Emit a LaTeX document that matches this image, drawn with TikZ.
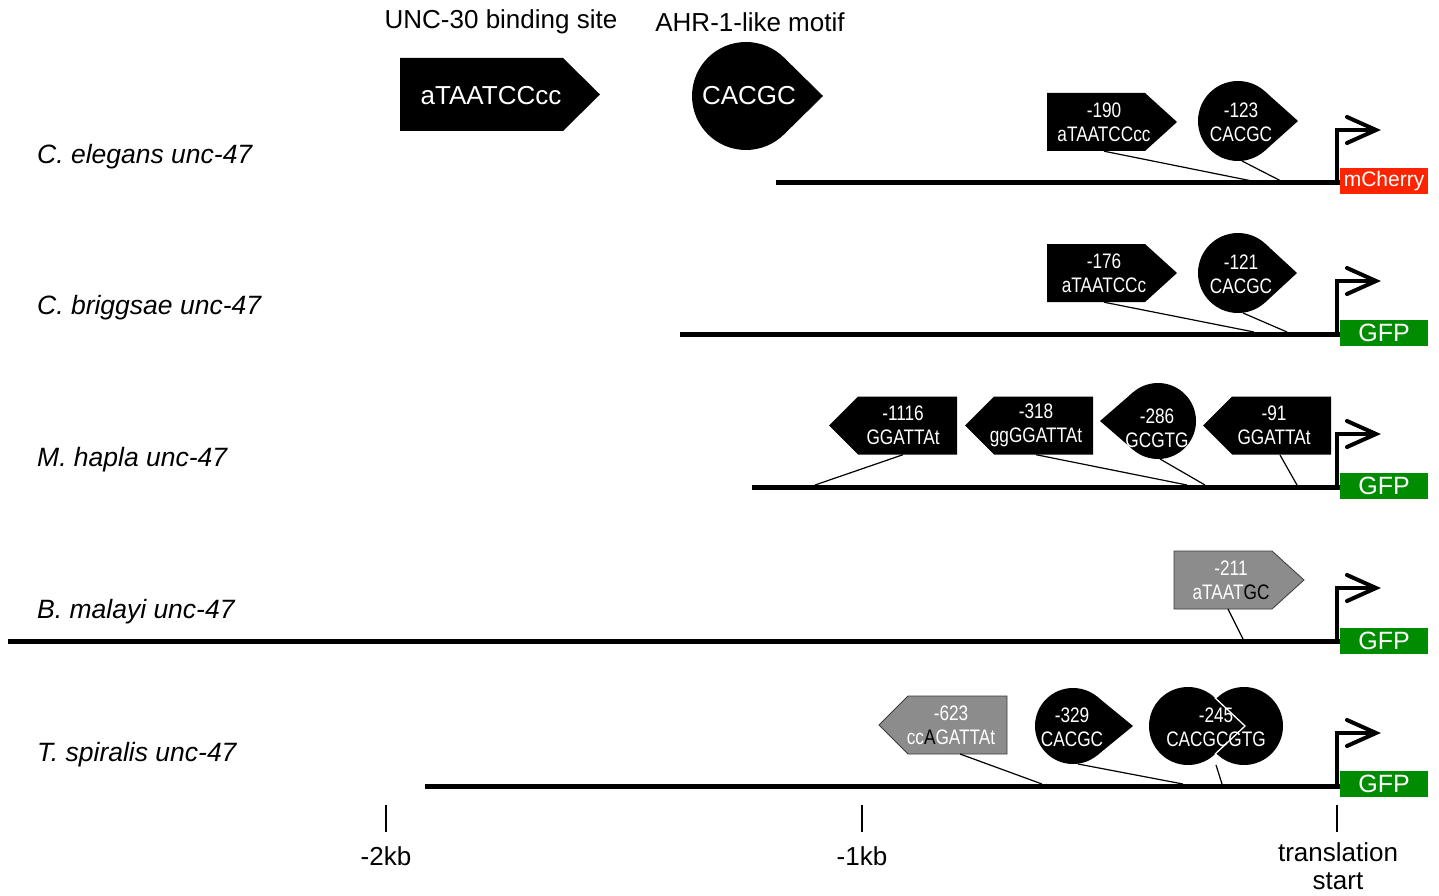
\documentclass[tikz,border=0pt]{standalone}
\usepackage{fontspec}
\setmainfont{Liberation Sans}
\newfontfamily\narrowf[FakeStretch=0.82]{Liberation Sans}
\usetikzlibrary{calc}
\definecolor{mcherry}{RGB}{255,36,0}
\definecolor{gfpgreen}{RGB}{0,140,0}
\definecolor{motgray}{RGB}{140,140,140}
\definecolor{edgegray}{RGB}{60,60,60}

% right-pointing pentagon: #1 left x, #2 centre y, #3 style
\newcommand\pentR[3]{\path[#3] (#1,#2-29) -- (#1+98,#2-29) -- (#1+130,#2) -- (#1+98,#2+29) -- (#1,#2+29) -- cycle;}
% left-pointing pentagon: #1 right x, #2 centre y, #3 style
\newcommand\pentL[3]{\path[#3] (#1,#2-29) -- (#1-99,#2-29) -- (#1-128,#2) -- (#1-99,#2+29) -- (#1,#2+29) -- cycle;}
% teardrop: #1 cx, #2 cy, #3 radius, #4 signed tip distance
\newcommand\tdrop[4]{%
  \fill (#1,#2) circle[radius=#3];
  \pgfmathsetmacro\dropang{acos(#3/(#4))}
  \fill (#1,#2) -- ($(#1,#2)+(\dropang:#3)$) -- (#1+#4,#2) -- ($(#1,#2)+(-\dropang:#3)$) -- cycle;}
% promoter arrow from backbone at y=#1
\newcommand\prom[1]{%
  \draw[promoter] (1337,#1+1) -- (1337,#1-53) -- (1372,#1-53);
  \draw[promoter, line cap=round] (1347,#1-66) -- (1376,#1-53) -- (1347,#1-40);}

\begin{document}
\begin{tikzpicture}[x=1pt,y=-1pt,
  backbone/.style={line width=5pt},
  promoter/.style={line width=4pt, line join=miter},
  link/.style={line width=1.2pt},
  motif/.style={text=white, font=\narrowf\fontsize{21}{24}\selectfont, align=center, inner sep=0pt, minimum height=58pt},
  dropmotif/.style={text=white, font=\narrowf\fontsize{21}{24}\selectfont, align=center, inner sep=0pt, minimum height=80pt},
  species/.style={anchor=west, font=\fontsize{26.5}{30}\selectfont\itshape, inner sep=0pt},
  title/.style={font=\fontsize{26}{30}\selectfont, inner sep=0pt},
  axislabel/.style={font=\fontsize{26}{30}\selectfont, inner sep=0pt, align=center},
  reporter/.style={text=white, minimum width=88pt, minimum height=26pt, inner sep=0pt, font=\fontsize{25}{28}\selectfont},
  graymotif/.style={fill=motgray, draw=edgegray, line width=0.8pt},
  tick/.style={line width=1.4pt}]
\useasboundingbox (0,0) rectangle (1439,896);

% ---------------- legend ----------------
\node[title] (t1) at (501,22) {UNC-30 binding site};
\node[title] (t2) at (750,22) {AHR-1-like motif};
\path[fill=black] (400,58) -- (563,58) -- (600,94.5) -- (563,131) -- (400,131) -- cycle;
\node[text=white, font=\fontsize{26}{30}\selectfont, inner sep=0pt] (l1) at (491,96) {aTAATCCcc};
\tdrop{746}{96}{54}{77}
\node[text=white, font=\fontsize{26}{30}\selectfont, inner sep=0pt] (l2) at (749,96) {CACGC};

% ---------------- species labels ----------------
\node[species] (s1) at (37,157) {C. elegans unc-47};
\node[species] (s2) at (37,308) {C. briggsae unc-47};
\node[species] (s3) at (37,460) {M. hapla unc-47};
\node[species] (s4) at (37,612) {B. malayi unc-47};
\node[species] (s5) at (37,755) {T. spiralis unc-47};

% ---------------- backbones ----------------
\coordinate (b1s) at (776,183); \coordinate (b1e) at (1340,183);
\coordinate (b2s) at (680,334); \coordinate (b2e) at (1340,334);
\coordinate (b3s) at (752,487); \coordinate (b3e) at (1340,487);
\coordinate (b4s) at (8,641);   \coordinate (b4e) at (1340,641);
\coordinate (b5s) at (425,786); \coordinate (b5e) at (1340,786);
\draw[backbone] (b1s) -- (b1e);
\draw[backbone] (b2s) -- (b2e);
\draw[backbone] (b3s) -- (b3e);
\draw[backbone] (b4s) -- (b4e);
\draw[backbone] (b5s) -- (b5e);

\prom{183}\prom{334}\prom{487}\prom{641}\prom{786}

\node[reporter, fill=mcherry, font=\fontsize{21}{24}\selectfont] (r1) at (1384,181) {mCherry};
\node[reporter, fill=gfpgreen] (r2) at (1384,333) {GFP};
\node[reporter, fill=gfpgreen] (r3) at (1384,486) {GFP};
\node[reporter, fill=gfpgreen] (r4) at (1384,641) {GFP};
\node[reporter, fill=gfpgreen] (r5) at (1384,784) {GFP};

% ---------------- row 1: C. elegans ----------------
\pentR{1047}{122}{fill=black}
\node[motif] (m1a) at (1104,122) {-190\\aTAATCCcc};
\tdrop{1238}{121}{40}{60}
\node[dropmotif] (m1b) at (1241,122) {-123\\CACGC};
\coordinate (p1a) at (1252,181); \coordinate (p1b) at (1281,181);
\coordinate (f1b) at (1242,161);
\draw[link] (m1a.south) -- (p1a);
\draw[link] (f1b) -- (p1b);

% ---------------- row 2: C. briggsae ----------------
\pentR{1047}{273}{fill=black}
\node[motif] (m2a) at (1104,273) {-176\\aTAATCCc};
\tdrop{1238}{273}{40}{59}
\node[dropmotif] (m2b) at (1241,274) {-121\\CACGC};
\coordinate (p2a) at (1254,332); \coordinate (p2b) at (1287,332);
\coordinate (f2b) at (1243,313);
\draw[link] (m2a.south) -- (p2a);
\draw[link] (f2b) -- (p2b);

% ---------------- row 3: M. hapla ----------------
\pentL{957}{425.5}{fill=black}
\node[motif] (m3a) at (903,425.5) {-1116\\GGATTAt};
\pentL{1093}{425.5}{fill=black}
\node[motif] (m3b) at (1036,425.5) {-318\\ggGGATTAt};
\tdrop{1158}{421}{38}{-58}
\node[dropmotif] (m3c) at (1157,428) {-286\\GCGTG};
\pentL{1331}{425.5}{fill=black}
\node[motif] (m3d) at (1274,425.5) {-91\\GGATTAt};
\coordinate (p3a) at (815,485); \coordinate (p3b) at (1187,485);
\coordinate (p3c) at (1205,485); \coordinate (p3d) at (1297,485);
\coordinate (f3c) at (1160,459);
\draw[link] (m3a.south) -- (p3a);
\draw[link] (m3b.south) -- (p3b);
\draw[link] (f3c) -- (p3c);
\draw[link] (1280,455) -- (p3d);

% ---------------- row 4: B. malayi ----------------
\pentR{1174}{580}{graymotif}
\node[motif] (m4a) at (1231,580) {-211\\aTAAT\textcolor{black}{GC}};
\coordinate (p4a) at (1243,639);
\draw[link] (1228,609) -- (p4a);

% ---------------- row 5: T. spiralis ----------------
\pentL{1007}{725}{graymotif}
\node[motif] (m5a) at (951,725) {-623\\cc\textcolor{black}{A}GATTAt};
\tdrop{1073}{726}{38}{60}
\node[dropmotif] (m5b) at (1072,727) {-329\\CACGC};
\tdrop{1244}{726}{39}{-56}
\tdrop{1188}{726}{39}{57}
\pgfmathsetmacro\wang{acos(39/57)}
\draw[white, line width=1.3pt] ($(1188,726)+(\wang:39)$) -- (1245,726) -- ($(1188,726)+(-\wang:39)$);
\node[dropmotif] (m5c) at (1216,727) {-245\\CACGCGTG};
\coordinate (p5a) at (1042,784); \coordinate (p5b) at (1183,784); \coordinate (p5c) at (1222,784);
\draw[link] (960,754) -- (p5a);
\draw[link] (1078,764) -- (p5b);
\draw[link] (1216,765) -- (p5c);

% ---------------- axis ----------------
\draw[tick] (386,805) -- (386,832);
\draw[tick] (862,805) -- (862,832);
\draw[tick] (1337,805) -- (1337,832);
\node[axislabel] (a1) at (386,856) {-2kb};
\node[axislabel] (a2) at (862,856) {-1kb};
\node[axislabel, font=\fontsize{26}{28}\selectfont] (a3) at (1338,866) {translation\\start};
\end{tikzpicture}
\end{document}
